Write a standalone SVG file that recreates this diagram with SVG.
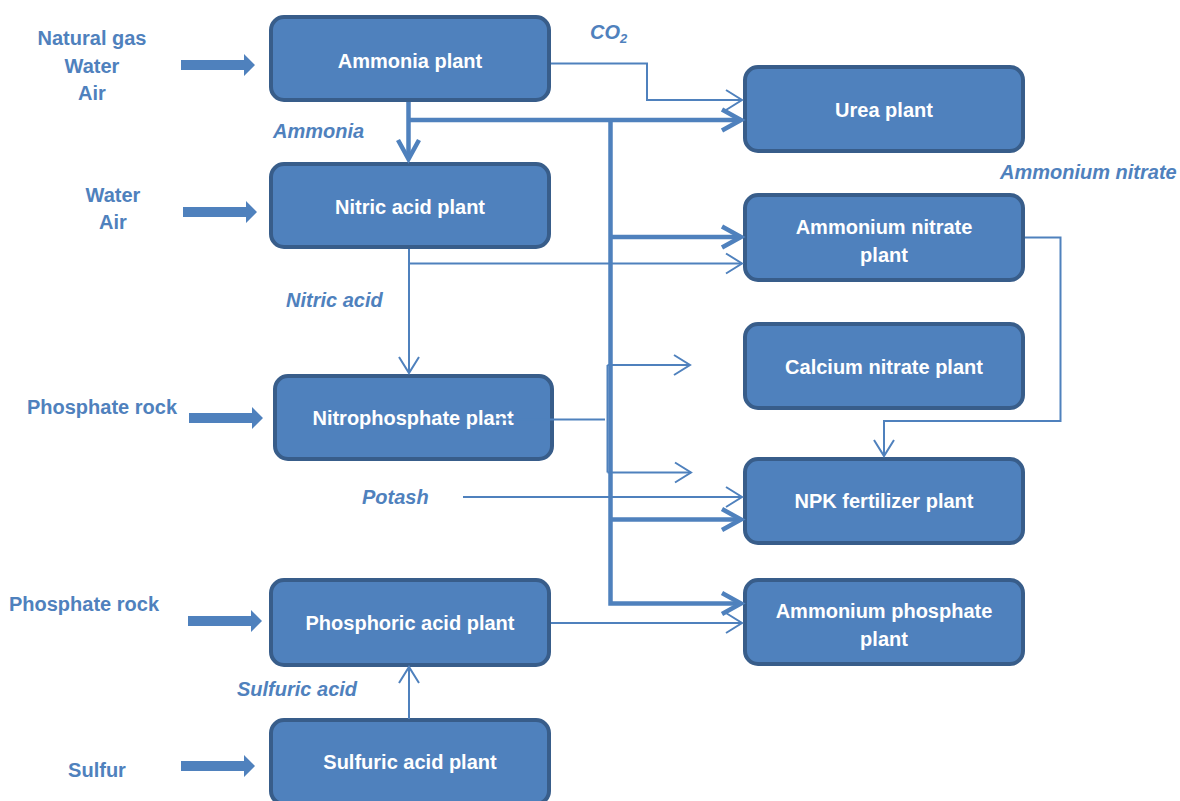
<svg xmlns="http://www.w3.org/2000/svg" width="1180" height="801" viewBox="0 0 1180 801">
<defs>
<style>
.box{fill:#4F81BD;stroke:#385D8A;stroke-width:4}
.bt{font-family:"Liberation Sans",Arial,sans-serif;font-weight:bold;font-size:20px;fill:#fff;text-anchor:middle}
.lb{font-family:"Liberation Sans",Arial,sans-serif;font-weight:bold;font-size:20px;fill:#4F81BD;text-anchor:middle}
.it{font-family:"Liberation Sans",Arial,sans-serif;font-weight:bold;font-style:italic;font-size:20px;fill:#4F81BD}
.thin{fill:none;stroke:#4F81BD;stroke-width:2;marker-end:url(#mThin)}
.thinn{fill:none;stroke:#4F81BD;stroke-width:2}
.thick{fill:none;stroke:#4F81BD;stroke-width:4.5;marker-end:url(#mThick)}
.blk{fill:#4F81BD}
</style>
<marker id="mThin" markerUnits="userSpaceOnUse" orient="auto" markerWidth="30" markerHeight="30" refX="0" refY="0" viewBox="-20 -15 25 30" overflow="visible">
<path d="M-16,-10 L0,0 L-16,10" fill="none" stroke="#4F81BD" stroke-width="2"/>
</marker>
<marker id="mThick" markerUnits="userSpaceOnUse" orient="auto" markerWidth="30" markerHeight="30" refX="0" refY="0" viewBox="-25 -15 30 30" overflow="visible">
<path d="M-19,-10.5 L0,0 L-19,10.5" fill="none" stroke="#4F81BD" stroke-width="4.5"/>
</marker>
<path id="blockArrow" d="M0,-5 L63,-5 L63,-11 L74,0 L63,11 L63,5 L0,5 Z"/>
</defs>

<g id="node-ammonia">
<rect class="box" x="271" y="17" width="278" height="83" rx="13"/>
<text class="bt" x="410" y="68">Ammonia plant</text>
</g>
<g id="node-nitric">
<rect class="box" x="271" y="164" width="278" height="83" rx="13"/>
<text class="bt" x="410" y="214">Nitric acid plant</text>
</g>
<g id="node-nitrophosphate">
<rect class="box" x="275" y="376" width="277" height="83" rx="13"/>
<text class="bt" x="413" y="425">Nitrophosphate plant</text>
</g>
<g id="node-phosphoric">
<rect class="box" x="271" y="580" width="278" height="85" rx="13"/>
<text class="bt" x="410" y="630">Phosphoric acid plant</text>
</g>
<g id="node-sulfuric">
<rect class="box" x="271" y="720" width="278" height="84" rx="13"/>
<text class="bt" x="410" y="769">Sulfuric acid plant</text>
</g>
<g id="node-urea">
<rect class="box" x="745" y="67" width="278" height="84" rx="13"/>
<text class="bt" x="884" y="117">Urea plant</text>
</g>
<g id="node-ammonium-nitrate">
<rect class="box" x="745" y="195" width="278" height="85" rx="13"/>
<text class="bt" x="884" y="234">Ammonium nitrate</text>
<text class="bt" x="884" y="262">plant</text>
</g>
<g id="node-calcium-nitrate">
<rect class="box" x="745" y="324" width="278" height="84" rx="13"/>
<text class="bt" x="884" y="374">Calcium nitrate plant</text>
</g>
<g id="node-npk">
<rect class="box" x="745" y="459" width="278" height="84" rx="13"/>
<text class="bt" x="884" y="508">NPK fertilizer plant</text>
</g>
<g id="node-ammonium-phosphate">
<rect class="box" x="745" y="580" width="278" height="84" rx="13"/>
<text class="bt" x="884" y="618">Ammonium phosphate</text>
<text class="bt" x="884" y="646">plant</text>
</g>

<g id="input-labels">
<text class="lb" x="92" y="45">Natural gas</text>
<text class="lb" x="92" y="73">Water</text>
<text class="lb" x="92" y="100">Air</text>
<text class="lb" x="113" y="202">Water</text>
<text class="lb" x="113" y="229">Air</text>
<text class="lb" x="102" y="414">Phosphate rock</text>
<text class="lb" x="84" y="611">Phosphate rock</text>
<text class="lb" x="97" y="777">Sulfur</text>
</g>

<g id="stream-labels">
<text class="it" x="590" y="39">CO<tspan font-size="13" dy="4">2</tspan></text>
<text class="it" x="273" y="138">Ammonia</text>
<text class="it" x="286" y="307">Nitric acid</text>
<text class="it" x="362" y="504">Potash</text>
<text class="it" x="237" y="696">Sulfuric acid</text>
<text class="it" x="1000" y="179">Ammonium nitrate</text>
</g>

<g id="connectors">
<use href="#blockArrow" class="blk" x="181" y="65"/>
<use href="#blockArrow" class="blk" x="183" y="212"/>
<use href="#blockArrow" class="blk" x="189" y="418"/>
<use href="#blockArrow" class="blk" x="188" y="621"/>
<use href="#blockArrow" class="blk" x="181" y="766"/>

<path class="thin" d="M551,63.5 H647 V100 H742"/>
<path class="thick" d="M408.5,102 V159"/>
<path class="thick" d="M408.5,120 H741"/>
<path class="thick" d="M610.5,120 V603.5 H741"/>
<path class="thick" d="M610.5,237 H741"/>
<path class="thick" d="M610.5,519.5 H741"/>

<path class="thin" d="M409,249 V373"/>
<path class="thin" d="M409,263.5 H742"/>

<path class="thinn" d="M495,419.5 H605"/>
<path class="thinn" d="M607.5,365 V472.5"/>
<path class="thin" d="M607.5,365 H690"/>
<path class="thin" d="M607.5,472.5 H691"/>

<path class="thin" d="M463,497 H742"/>
<path class="thin" d="M551,623 H742"/>
<path class="thin" d="M409,719 V667"/>
<path class="thin" d="M1025,237.5 H1060.5 V421 H884 V456"/>
</g>
</svg>
